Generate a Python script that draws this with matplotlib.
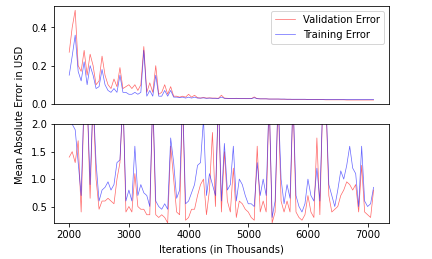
import matplotlib
matplotlib.use("Agg")
import matplotlib.pyplot as plt

# iterations (in thousands), one reading every 50
iterations = list(range(2000, 7101, 50))

# top panel: overall error
val_top = [0.27, 0.40, 0.49, 0.20, 0.17, 0.28, 0.15, 0.26, 0.20, 0.10,
           0.12, 0.25, 0.15, 0.10, 0.08, 0.13, 0.09, 0.19, 0.08, 0.09,
           0.10, 0.08, 0.10, 0.07, 0.10, 0.30, 0.06, 0.11, 0.06, 0.20,
           0.05, 0.06, 0.10, 0.05, 0.09, 0.04, 0.04, 0.035, 0.04, 0.035,
           0.05, 0.035, 0.045, 0.032, 0.030, 0.033, 0.030, 0.031, 0.030, 0.030,
           0.029, 0.045, 0.030, 0.029, 0.028, 0.028, 0.029, 0.028, 0.028, 0.027,
           0.027, 0.027, 0.036, 0.027, 0.026, 0.026, 0.026, 0.025, 0.025, 0.025,
           0.025, 0.024, 0.024, 0.024, 0.024, 0.023, 0.023, 0.023, 0.023, 0.023,
           0.022, 0.022, 0.022, 0.022, 0.022, 0.022, 0.021, 0.021, 0.021, 0.021,
           0.021, 0.021, 0.021, 0.020, 0.020, 0.020, 0.020, 0.020, 0.020, 0.020,
           0.020, 0.020, 0.020]
train_top = [0.15, 0.25, 0.36, 0.17, 0.12, 0.22, 0.10, 0.20, 0.15, 0.08,
             0.09, 0.18, 0.10, 0.07, 0.06, 0.08, 0.06, 0.15, 0.06, 0.06,
             0.05, 0.05, 0.06, 0.05, 0.06, 0.28, 0.04, 0.07, 0.04, 0.15,
             0.04, 0.04, 0.07, 0.04, 0.07, 0.035, 0.035, 0.033, 0.035, 0.030,
             0.035, 0.030, 0.035, 0.030, 0.030, 0.031, 0.029, 0.030, 0.029, 0.029,
             0.028, 0.035, 0.029, 0.028, 0.028, 0.028, 0.028, 0.027, 0.027, 0.027,
             0.027, 0.027, 0.032, 0.027, 0.026, 0.026, 0.026, 0.025, 0.025, 0.025,
             0.025, 0.025, 0.025, 0.024, 0.024, 0.024, 0.024, 0.024, 0.024, 0.024,
             0.023, 0.023, 0.023, 0.023, 0.023, 0.023, 0.023, 0.023, 0.023, 0.023,
             0.023, 0.023, 0.023, 0.023, 0.023, 0.023, 0.023, 0.023, 0.023, 0.023,
             0.023, 0.023, 0.023]

# bottom panel: error in USD (clipped at 2.0)
val_bottom = [1.4, 1.5, 1.3, 1.7, 0.4, 2.5, 2.5, 0.65, 2.5, 1.0,
              0.45, 0.6, 0.6, 0.65, 0.6, 0.55, 1.0, 1.3, 2.5, 0.4,
              0.5, 0.4, 1.1, 0.5, 0.45, 0.45, 0.35, 0.35, 2.5, 0.35,
              0.3, 0.35, 0.3, 0.2, 1.6, 1.0, 0.4, 0.35, 2.5, 0.25,
              0.3, 0.45, 0.45, 0.7, 0.9, 1.0, 0.35, 0.8, 1.85, 0.5,
              2.5, 0.4, 1.5, 0.6, 0.4, 1.2, 0.3, 0.6, 0.55, 0.45,
              0.4, 0.3, 0.25, 1.6, 0.4, 0.6, 0.4, 2.5, 0.2, 0.4,
              2.5, 0.6, 0.4, 0.6, 0.4, 2.5, 0.4, 0.3, 0.25, 0.35,
              0.7, 0.4, 0.3, 1.75, 0.35, 2.5, 2.5, 0.7, 0.4, 0.45,
              0.5, 0.7, 0.8, 0.95, 0.9, 0.8, 0.9, 0.4, 1.25, 0.4,
              0.35, 0.3, 0.8]
train_bottom = [2.1, 2.0, 1.9, 1.3, 0.7, 2.5, 2.5, 0.9, 2.5, 1.3,
                0.6, 0.8, 0.85, 0.95, 0.8, 0.9, 1.3, 1.35, 2.5, 0.6,
                0.8, 0.6, 1.6, 0.7, 0.9, 0.75, 0.7, 0.5, 2.5, 0.6,
                0.5, 0.45, 0.55, 0.45, 1.75, 1.3, 0.65, 0.8, 2.5, 0.55,
                0.6, 0.75, 0.9, 1.25, 1.3, 2.1, 0.7, 1.1, 0.9, 0.7,
                2.5, 0.6, 1.65, 0.8, 0.9, 1.6, 0.6, 1.0, 0.9, 0.7,
                0.55, 0.55, 0.5, 1.3, 0.7, 1.0, 0.7, 2.5, 0.3, 0.6,
                2.5, 1.0, 0.55, 0.9, 0.65, 2.5, 0.7, 0.5, 0.4, 0.55,
                1.0, 0.7, 0.6, 1.2, 0.6, 2.5, 2.5, 0.9, 0.7, 0.5,
                0.8, 1.15, 1.0, 1.25, 1.6, 1.2, 1.1, 0.5, 1.6, 0.6,
                0.5, 0.55, 0.85]

fig, (ax1, ax2) = plt.subplots(2, 1, sharex=True, figsize=(6, 3.6), dpi=72)
fig.subplots_adjust(left=0.125, right=0.9, top=0.977, bottom=0.139, hspace=0.2)

ax1.plot(iterations, val_top, color="red", alpha=0.6, lw=0.7, label="Validation Error")
ax1.plot(iterations, train_top, color="blue", alpha=0.6, lw=0.7, label="Training Error")
ax1.legend(loc="upper right")
ax1.tick_params(axis="x", bottom=False)

ax2.plot(iterations, val_bottom, color="red", alpha=0.6, lw=0.7)
ax2.plot(iterations, train_bottom, color="blue", alpha=0.6, lw=0.7)
ax2.set_ylim(0.2, 2.0)
ax2.set_xlabel("Iterations (in Thousands)")

fig.text(0.046, 0.556, "Mean Absolute Error in USD", rotation=90, ha="center", va="center")

plt.savefig("out.png")
plt.close()
